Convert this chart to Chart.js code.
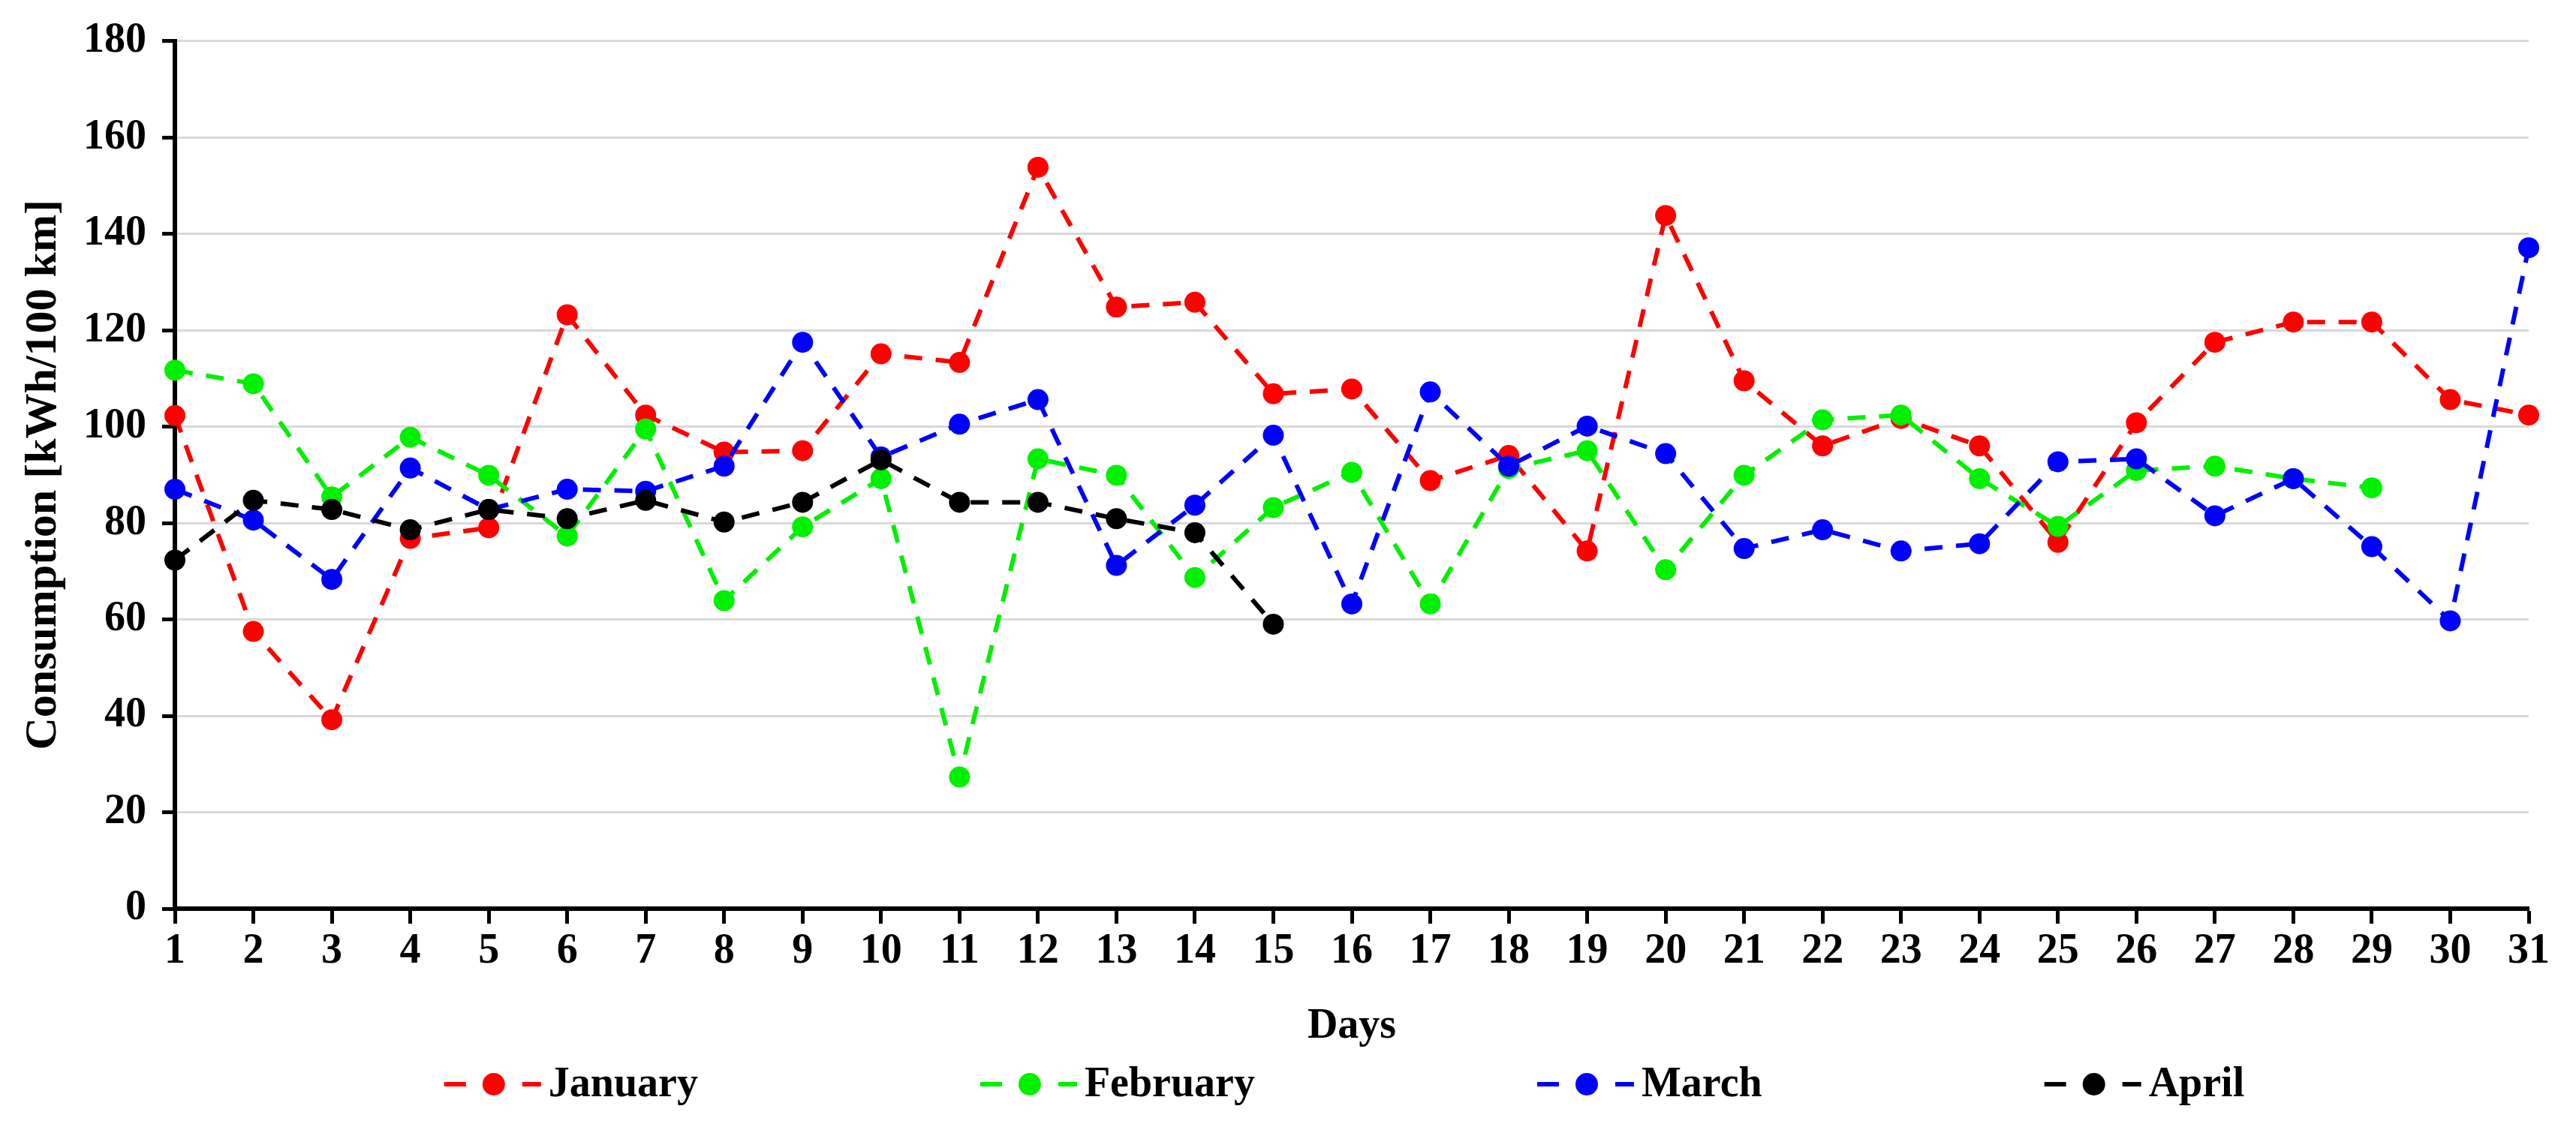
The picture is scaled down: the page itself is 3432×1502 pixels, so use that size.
<!DOCTYPE html>
<html>
<head>
<meta charset="utf-8">
<title>Daily consumption</title>
<script src="https://cdn.jsdelivr.net/npm/chart.js@4.4.0/dist/chart.umd.min.js"></script>
<style>
  html, body { margin: 0; padding: 0; background: #fff; }
  #wrap { width: 3432px; height: 1502px; }
</style>
</head>
<body>
<div id="wrap"><canvas id="consumptionChart" width="3432" height="1502"></canvas></div>
<script>
// values (kWh/100 km per day)
const days = ["1", "2", "3", "4", "5", "6", "7", "8", "9", "10", "11", "12", "13", "14", "15", "16",
  "17", "18", "19", "20", "21", "22", "23", "24", "25", "26", "27", "28", "29", "30", "31"];

const january = [102.3, 57.5, 39.2, 76.8, 79, 123.2, 102.4, 94.7, 95, 115.1, 113.3, 153.8, 124.8, 125.8, 106.8,
  107.8, 88.8, 94, 74.2, 143.8, 109.5, 96, 101.7, 96, 76, 100.8, 117.5, 121.7, 121.7, 105.6, 102.4];
const february = [111.7, 108.9, 85.4, 97.8, 89.9, 77.3, 99.5, 63.9, 79.2, 89.2, 27.3, 93.3, 89.9, 68.7, 83.2,
  90.5, 63.2, 91.3, 95, 70.3, 89.9, 101.4, 102.4, 89.2, 79.3, 90.9, 91.8, 89.2, 87.3];
const march = [87, 80.6, 68.3, 91.4, 82.8, 87, 86.6, 91.8, 117.5, 93.7, 100.5, 105.6, 71.2, 83.7, 98.2,
  63.2, 107.2, 91.8, 100.1, 94.4, 74.7, 78.6, 74.2, 75.7, 92.7, 93.3, 81.5, 89.2, 75.1, 59.7, 137.1];
const april = [72.3, 84.7, 82.8, 78.6, 82.8, 80.9, 84.7, 80.2, 84.3, 93.1, 84.3, 84.3, 80.9, 78, 59];

const yMin = 0;
const yMax = 180;
const yStep = 20;

const FONT = "'Palatino Linotype', 'Book Antiqua', 'Liberation Serif', serif";

function series(label, data, color, order) {
  return {
    label: label,
    data: data,
    borderColor: color,
    backgroundColor: color,
    borderWidth: 6,
    borderDash: [24, 18],
    pointRadius: 14,
    pointBorderWidth: 0,
    pointBackgroundColor: color,
    tension: 0,
    fill: false,
    clip: false,
    order: order
  };
}

// Excel style legend: dash - dot - dash, then the label
const dashLegend = {
  id: "dashLegend",
  afterDraw(chart) {
    const ctx = chart.ctx;
    const area = chart.chartArea;
    const y = chart.height - 57;
    const symbolW = 129;
    const textGap = 10;
    const itemGap = 376;

    ctx.save();
    ctx.font = "bold 56px " + FONT;
    const items = chart.data.datasets.map(ds => ({
      text: ds.label,
      color: ds.borderColor,
      w: ctx.measureText(ds.label).width
    }));
    let total = 0;
    items.forEach((it, i) => {
      total += symbolW + textGap + it.w + (i ? itemGap : 0);
    });
    let x = (area.left + area.right) / 2 - total / 2 - 10;

    items.forEach(it => {
      ctx.strokeStyle = it.color;
      ctx.fillStyle = it.color;
      ctx.lineWidth = 6;
      ctx.lineCap = "butt";
      ctx.beginPath();
      ctx.moveTo(x, y);
      ctx.lineTo(x + 29, y);
      ctx.moveTo(x + 104, y);
      ctx.lineTo(x + symbolW, y);
      ctx.stroke();
      ctx.beginPath();
      ctx.arc(x + 66, y, 15, 0, Math.PI * 2);
      ctx.fill();

      ctx.fillStyle = "#000";
      ctx.textAlign = "left";
      ctx.textBaseline = "middle";
      ctx.fillText(it.text, x + symbolW + textGap, y + 2);
      x += symbolW + textGap + it.w + itemGap;
    });
    ctx.restore();
  }
};

const ctx = document.getElementById("consumptionChart").getContext("2d");
new Chart(ctx, {
  type: "line",
  data: {
    labels: days,
    datasets: [
      series("January", january, "#ff0000", 4),
      series("February", february, "#00f000", 3),
      series("March", march, "#0000ff", 2),
      series("April", april, "#000000", 1)
    ]
  },
  options: {
    responsive: false,
    animation: false,
    devicePixelRatio: 1,
    layout: { padding: { top: 48, right: 63, bottom: 100, left: 0 } },
    plugins: {
      legend: { display: false },
      tooltip: { enabled: false }
    },
    scales: {
      x: {
        type: "category",
        offset: false,
        grid: {
          drawOnChartArea: false,
          drawTicks: true,
          tickLength: 20,
          tickWidth: 5,
          tickColor: "#000"
        },
        border: { display: true, color: "#000", width: 6 },
        ticks: {
          color: "#000",
          padding: 4,
          autoSkip: false,
          maxRotation: 0,
          font: { family: FONT, size: 56, weight: "bold" }
        },
        title: {
          display: true,
          text: "Days",
          color: "#000",
          padding: { top: 0, bottom: 0 },
          font: { family: FONT, size: 56, weight: "bold" }
        },
        afterFit(scale) { scale.height = 191; }
      },
      y: {
        min: yMin,
        max: yMax,
        grid: {
          color: "#d9d9d9",
          lineWidth: 3,
          tickLength: 17,
          tickWidth: 5,
          tickColor: "#000"
        },
        border: { display: true, color: "#000", width: 6 },
        ticks: {
          stepSize: yStep,
          color: "#000",
          padding: 21,
          font: { family: FONT, size: 56, weight: "bold" }
        },
        title: {
          display: true,
          text: "Consumption [kWh/100 km]",
          color: "#000",
          padding: { top: 22, bottom: 0 },
          font: { family: FONT, size: 60, weight: "bold" }
        },
        afterFit(scale) { scale.width = 233; }
      }
    }
  },
  plugins: [dashLegend]
});
</script>
</body>
</html>
